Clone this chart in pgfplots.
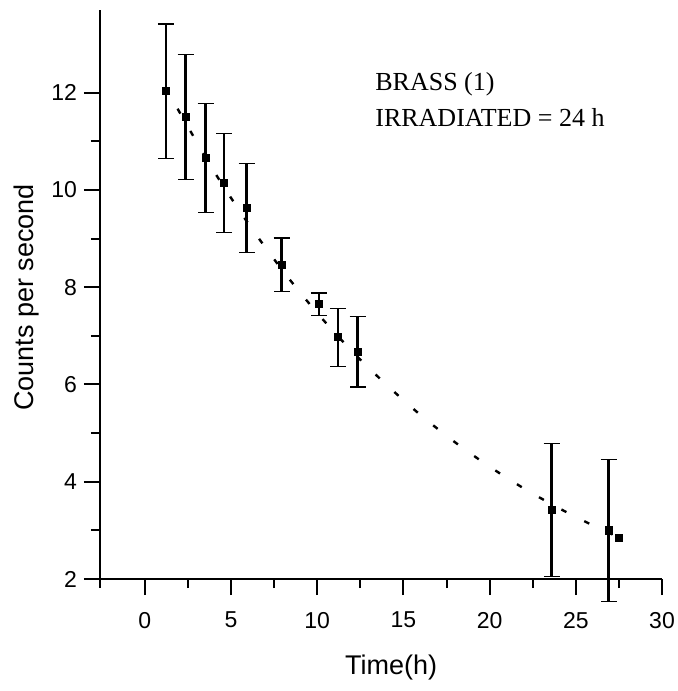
\documentclass[border=0pt]{standalone}
\usepackage{pgfplots}
\pgfplotsset{compat=1.18}
\usepackage{fontspec}
\setmainfont{Liberation Sans}
\newfontfamily\serifx{Liberation Serif}
\begin{document}
\begin{tikzpicture}
\begin{axis}[
  scale only axis,
  width=281pt, height=284.5pt,
  xmin=-2.6, xmax=30, ymin=2, ymax=13.7,
  axis x line=bottom, axis y line=left,
  axis line style={-, line width=1.2pt},
  xtick={0,5,...,30}, ytick={2,4,...,12},
  minor x tick num=1, minor y tick num=1,
  tick align=outside,
  major tick length=8pt, minor tick length=4.5pt,
  every tick/.style={black, line width=1pt},
  tick label style={font=\fontsize{11.5}{13}\selectfont},
  xticklabel style={yshift=-5pt},
  /pgf/number format/assume math mode=true,
  clip=false,
  xlabel={Time(h)}, ylabel={Counts per second},
  label style={font=\fontsize{13.5}{15}\selectfont},
  xlabel style={at={(axis description cs:0.518,-0.155)}, anchor=center},
  ylabel style={at={(axis description cs:-0.13,0.495)}, anchor=center},
]
\coordinate (sw) at (rel axis cs:0,0);
\addplot[black, line width=1.2pt, dash pattern=on 2.8pt off 10pt, smooth] coordinates {
 (1.9,11.67) (4,10.39) (6,9.31) (8,8.34) (10,7.47) (12,6.69) (14,6.00)
 (16,5.37) (18,4.81) (20,4.31) (22,3.86) (24,3.46) (26,3.10) (27.3,2.89)};
\addplot[only marks, mark=square*, mark size=1.8pt, black,
  error bars/.cd, y dir=both, y explicit,
  error bar style={line width=1.2pt, black},
  error mark options={rotate=90, mark size=4pt, line width=0.6pt, black}]
 coordinates {
 (1.22,12.03) +- (0,1.38)
 (2.36,11.50) +- (0,1.29)
 (3.52,10.66) +- (0,1.12)
 (4.60,10.14) +- (0,1.02)
 (5.90,9.63) +- (0,0.91)
 (7.93,8.46) +- (0,0.55)
 (10.10,7.65) +- (0,0.23)
 (11.20,6.97) +- (0,0.60)
 (12.34,6.67) +- (0,0.72)
 (23.60,3.42) +- (0,1.37)
 (26.90,3.00) +- (0,1.46)
 };
\addplot[only marks, mark=square*, mark size=1.8pt, black] coordinates {(27.5,2.84)};
\node[anchor=west, align=left, font=\serifx\fontsize{13}{18}\selectfont, inner sep=0pt]
  at (axis cs:13.35,11.85) {BRASS (1)\\IRRADIATED = 24 h};
\end{axis}
\draw[line width=1.2pt] (sw) -- ([yshift=-4.5pt]sw);
\pgfresetboundingbox
\path[use as bounding box] ([xshift=-50pt,yshift=-56pt]sw) rectangle ([xshift=289pt,yshift=289.5pt]sw);
\end{tikzpicture}
\end{document}
